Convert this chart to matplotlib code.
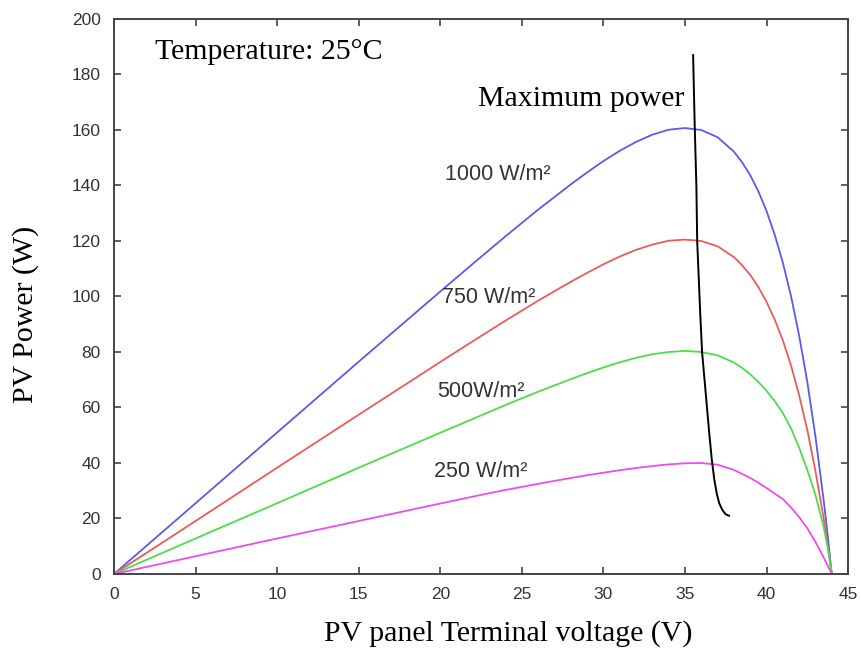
import matplotlib.pyplot as plt

# PV power curves (W), same voltage grid for all
voltage = [0, 5, 10, 15, 20, 22, 24, 26, 28, 29, 30, 31, 32, 33, 34, 35, 36,
           37, 38, 38.5, 39, 39.5, 40, 40.5, 41, 41.5, 42, 42.5, 43, 43.5,
           43.75, 44]
p1000 = [0, 25.5, 51, 76.5, 101.8, 111.8, 121.7, 131.3, 140.4, 144.7, 148.8,
         152.5, 155.7, 158.3, 160.1, 160.7, 160.0, 157.4, 152.2, 148.4, 143.7,
         137.9, 130.8, 122.3, 112.2, 100.2, 85.9, 69.2, 49.5, 26.7, 13.9, 0]
p750 = [0, 19.1, 38.3, 57.4, 76.4, 83.9, 91.3, 98.5, 105.3, 108.5, 111.6,
        114.4, 116.8, 118.7, 120.1, 120.5, 120, 118.1, 114.2, 111.3, 107.8,
        103.4, 98.1, 91.7, 84.2, 75.2, 64.4, 51.9, 37.1, 20, 10.4, 0]
p500 = [0, 12.8, 25.5, 38.3, 50.9, 55.9, 60.9, 65.7, 70.2, 72.4, 74.4, 76.3,
        77.9, 79.2, 80, 80.4, 80, 78.8, 76.2, 74.3, 72, 69.2, 66, 62.3, 58,
        52.5, 45.5, 37.5, 28.5, 17, 9.5, 0]
p250 = [0, 6.4, 12.8, 19.1, 25.4, 27.9, 30.3, 32.5, 34.6, 35.6, 36.5, 37.4,
        38.2, 38.9, 39.5, 39.9, 40.0, 39.4, 37.5, 36.1, 34.6, 32.9, 31, 29,
        27, 24, 20.5, 16.5, 11.5, 6, 3, 0]

# hand drawn "maximum power" line
mpp_v = [35.5, 35.6, 35.7, 35.75, 35.85, 35.95, 36.05, 36.2, 36.35, 36.5,
         36.65, 36.8, 36.95, 37.1, 37.3, 37.5, 37.7]
mpp_p = [187, 161, 140, 120, 106, 92, 80, 70, 60, 50, 41, 34, 29, 25.5,
         23, 21.5, 21]

curve_labels = ["1000 W/m²", "750 W/m²", "500W/m²", "250 W/m²"]
label_pos = [(20.3, 144), (20.1, 99.5), (19.8, 65.6), (19.6, 36.8)]

fig = plt.figure(figsize=(8.61, 6.48), dpi=100)
ax = fig.add_axes([0.1324, 0.1142, 0.8526, 0.8565])

ax.plot(voltage, p1000, color="#5a5aee", lw=1.3)
ax.plot(voltage, p750, color="#ee5a5a", lw=1.3)
ax.plot(voltage, p500, color="#4cdc4c", lw=1.3)
ax.plot(voltage, p250, color="#ee4cee", lw=1.3)
ax.plot(mpp_v, mpp_p, color="black", lw=1.4)

for txt, (x, y) in zip(curve_labels, label_pos):
    ax.text(x, y, txt, fontsize=15.5, color="#333333", va="center",
            family="Liberation Sans")

ax.text(2.5, 188, "Temperature: 25°C", fontsize=21.5, family="Liberation Serif",
        va="center")
ax.text(22.3, 171, "Maximum power", fontsize=21.5, family="Liberation Serif",
        va="center")

ax.set_xlim(0, 45)
ax.set_ylim(0, 200)
ax.set_xticks(range(0, 46, 5))
ax.set_yticks(range(0, 201, 20))
ax.tick_params(direction="in", length=5, top=True, right=True, pad=9.5,
               labelsize=12.5, labelcolor="#333333", color="#444444", width=1.2)
for lbl in ax.get_xticklabels() + ax.get_yticklabels():
    lbl.set_family("Liberation Sans")
for s in ax.spines.values():
    s.set_color("#444444")
    s.set_linewidth(1.4)

ax.set_xlabel("PV panel Terminal voltage (V)", fontsize=21.5,
              family="Liberation Serif", va="center")
ax.xaxis.set_label_coords(0.537, -0.108)
ax.set_ylabel("PV Power (W)", fontsize=21.5, family="Liberation Serif",
              va="center")
ax.yaxis.set_label_coords(-0.121, 0.467)

fig.savefig("out.png", dpi=100)
